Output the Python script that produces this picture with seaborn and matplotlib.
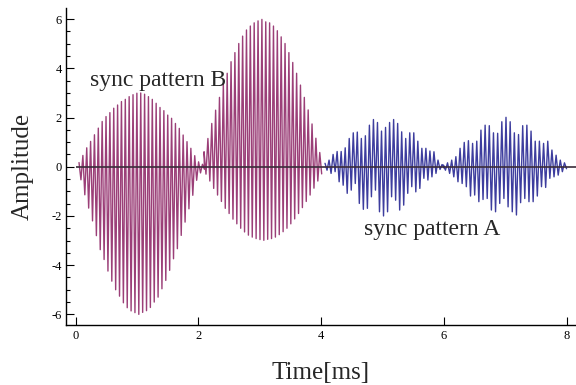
import numpy as np
import pandas as pd
import matplotlib
matplotlib.use("Agg")
import matplotlib.pyplot as plt
import seaborn as sns
from matplotlib.ticker import MultipleLocator

# ---- data: per-cycle peak amplitudes of each burst ----
# sync pattern B, first burst (0-2 ms)
b1_t0, b1_period = 0.057, 0.0628
b1_upper = [0.17, 0.46, 0.77, 1.03, 1.30, 1.57, 1.84, 2.04, 2.20, 2.38, 2.51, 2.65, 2.74,
            2.85, 2.93, 2.99, 3.00, 2.95, 2.85, 2.74, 2.58, 2.41, 2.28, 2.10, 1.97, 1.76,
            1.56, 1.29, 1.02, 0.75, 0.45, 0.20, 0.10]
b1_lower = [-0.53, -1.14, -1.68, -2.20, -2.80, -3.37, -3.77, -4.24, -4.65, -5.00, -5.26,
            -5.53, -5.73, -5.86, -5.93, -6.00, -5.92, -5.85, -5.72, -5.50, -5.30, -4.96,
            -4.62, -4.21, -3.74, -3.33, -2.79, -2.25, -1.71, -1.16, -0.55, -0.25, -0.10]
# sync pattern B, second burst (2-4 ms)
b2_t0, b2_period = 2.093, 0.0628
b2_upper = [0.61, 1.15, 1.76, 2.30, 2.82, 3.39, 3.80, 4.27, 4.64, 5.01, 5.31, 5.56, 5.72,
            5.85, 5.93, 5.99, 5.89, 5.85, 5.72, 5.53, 5.28, 5.01, 4.64, 4.24, 3.80, 3.32,
            2.82, 2.31, 1.74, 1.16, 0.58]
b2_lower = [-0.30, -0.58, -0.88, -1.15, -1.41, -1.69, -1.90, -2.13, -2.32, -2.50, -2.65,
            -2.78, -2.86, -2.92, -2.96, -2.99, -2.95, -2.92, -2.86, -2.76, -2.64, -2.50,
            -2.32, -2.12, -1.90, -1.66, -1.41, -1.15, -0.87, -0.58, -0.29]
# sync pattern A, first burst (4-6 ms)
a1_t0, a1_period = 4.063, 0.0657
a1_upper = [0.14, 0.27, 0.50, 0.62, 0.62, 0.77, 1.15, 1.38, 1.41, 1.15, 1.26, 1.69, 1.92,
            1.80, 1.45, 1.60, 1.80, 1.92, 1.76, 1.42, 1.15, 1.38, 1.38, 1.04, 0.75, 0.75,
            0.64, 0.61, 0.27, 0.09]
a1_lower = [-0.14, -0.27, -0.20, -0.61, -0.75, -1.08, -0.95, -0.68, -1.49, -1.73, -1.69,
            -1.22, -0.95, -1.83, -2.00, -1.83, -1.22, -1.36, -1.76, -1.56, -1.08, -0.81,
            -1.02, -0.88, -0.47, -0.54, -0.41, -0.27, -0.11, -0.05]
# sync pattern A, second burst (6-8 ms)
a2_t0, a2_period = 5.99, 0.068
a2_upper = [0.07, 0.16, 0.27, 0.41, 0.75, 0.99, 1.06, 0.95, 1.04, 1.49, 1.69, 1.67, 1.38,
            1.36, 1.83, 2.01, 1.83, 1.38, 1.31, 1.67, 1.69, 1.45, 1.04, 1.04, 0.95, 1.04,
            0.68, 0.47, 0.27, 0.16]
a2_lower = [-0.14, -0.27, -0.41, -0.61, -0.68, -0.81, -1.19, -1.15, -1.42, -1.33, -1.29,
            -1.76, -1.83, -1.49, -1.29, -1.63, -1.83, -1.96, -1.46, -1.29, -1.42, -1.42,
            -1.19, -0.81, -0.84, -0.47, -0.41, -0.34, -0.20, -0.08]

labels = ["sync pattern B", "sync pattern A"]


def burst(t0, period, upper, lower, name):
    n = len(upper)
    t_up = t0 + period * np.arange(n)
    t_lo = t_up + period / 2
    t = np.empty(2 * n)
    v = np.empty(2 * n)
    t[0::2], t[1::2] = t_up, t_lo
    v[0::2], v[1::2] = upper, lower
    return pd.DataFrame({"time": t, "amp": v, "pattern": name})


df = pd.concat([
    burst(b1_t0, b1_period, b1_upper, b1_lower, "B"),
    burst(b2_t0, b2_period, b2_upper, b2_lower, "B"),
    burst(a1_t0, a1_period, a1_upper, a1_lower, "A"),
    burst(a2_t0, a2_period, a2_upper, a2_lower, "A"),
], ignore_index=True)

sns.set_theme(style="ticks")
plt.rcParams["font.family"] = ["Liberation Serif", "DejaVu Serif"]

fig = plt.figure(figsize=(5.76, 3.85), dpi=100)
ax = fig.add_axes([0.1146, 0.156, 0.8854, 0.823])

sns.lineplot(data=df, x="time", y="amp", hue="pattern",
             palette={"B": "#9b3f78", "A": "#3d3d9e"},
             estimator=None, sort=False, legend=False, lw=1.0, ax=ax)

ax.set_xlim(-0.155, 8.15)
ax.set_ylim(-6.43, 6.45)
ax.hlines(0, 0, 8.15, color="#3a2c3a", lw=1.2, zorder=5)

ax.xaxis.set_major_locator(MultipleLocator(2))
ax.yaxis.set_major_locator(MultipleLocator(2))
ax.yaxis.set_minor_locator(MultipleLocator(0.5))
ax.tick_params(axis="both", which="both", direction="in", colors="black",
               labelsize=9, width=0.8)
ax.tick_params(axis="x", which="major", length=6, pad=4)
ax.tick_params(axis="y", which="major", length=6, pad=3)
ax.tick_params(axis="y", which="minor", length=3)
ax.set_yticks(np.arange(-6, 7, 2))
ax.set_yticklabels([str(v) for v in range(-6, 7, 2)])

for s in ["top", "right"]:
    ax.spines[s].set_visible(False)
for s in ["left", "bottom"]:
    ax.spines[s].set_color("black")
    ax.spines[s].set_linewidth(1.0)

ax.set_xlabel("Time[ms]", fontsize=18, labelpad=14)
ax.set_ylabel("Amplitude", fontsize=18, labelpad=13)

ax.text(1.34, 3.5, labels[0], fontsize=17, ha="center", va="center", zorder=6)
ax.text(5.8, -2.55, labels[1], fontsize=17, ha="center", va="center", zorder=6)

fig.savefig("out.png", dpi=100)
